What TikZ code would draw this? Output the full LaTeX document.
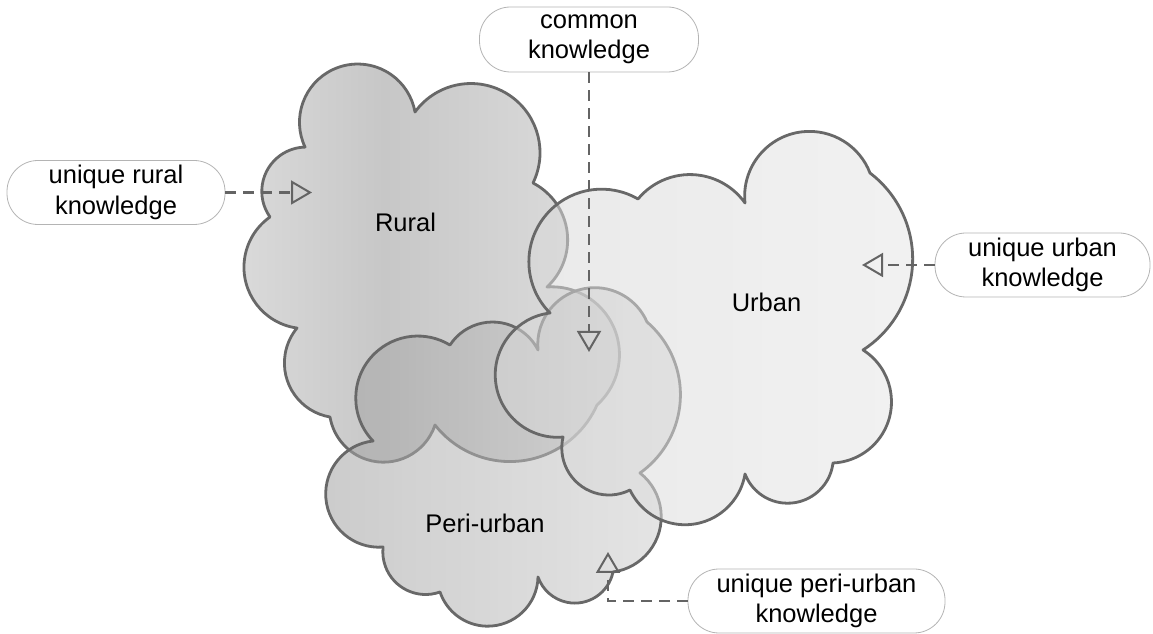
\documentclass[tikz,border=0pt]{standalone}
\usepackage{fontspec}
\setmainfont{Liberation Sans}
\usetikzlibrary{calc,arrows.meta}

\definecolor{cloudline}{RGB}{104,104,104}
\definecolor{connline}{RGB}{100,100,100}
\definecolor{boxline}{RGB}{180,180,180}
\definecolor{ruralL}{RGB}{218,218,218}
\definecolor{ruralM}{RGB}{199,199,199}
\definecolor{ruralR}{RGB}{223,223,223}
\definecolor{periL}{RGB}{160,160,160}
\definecolor{periR}{RGB}{209,209,209}
\definecolor{urbL}{RGB}{215,215,215}
\definecolor{urbR}{RGB}{230,230,230}

% horizontal fills; the path box maps onto 25bp..75bp
\pgfdeclarehorizontalshading{ruralfill}{100bp}{color(0bp)=(ruralL); color(25bp)=(ruralL); color(44bp)=(ruralM); color(75bp)=(ruralR); color(100bp)=(ruralR)}
\pgfdeclarehorizontalshading{perifill}{100bp}{color(0bp)=(periL); color(25bp)=(periL); color(75bp)=(periR); color(100bp)=(periR)}
\pgfdeclarehorizontalshading{urbanfill}{100bp}{color(0bp)=(urbL); color(25bp)=(urbL); color(75bp)=(urbR); color(100bp)=(urbR)}

% a point given in top-down page units
\newcommand\cpt[3]{\coordinate (#1) at (#2,{634-#3});}

\tikzset{
  % circular arc bulging outwards (left of travel) with central angle #1
  bump/.style={to path={
    let \p1=(\tikztostart), \p2=(\tikztotarget),
        \n1={atan2(\y2-\y1,\x2-\x1)},
        \n2={veclen(\x2-\x1,\y2-\y1)}
    in arc[start angle=\n1+90+#1/2, delta angle=-#1, radius={\n2/(2*sin(#1/2))}]}},
  cloud/.style={draw=cloudline, line width=2.8pt, line join=round, shade},
  lbl/.style={draw=boxline, line width=0.8pt, fill=white, rounded corners=31pt,
    minimum height=64pt, align=center, inner sep=0pt,
    font=\fontsize{25.5}{30.5}\selectfont},
  cloudname/.style={font=\fontsize{25.5}{30}\selectfont, anchor=base, inner sep=0pt},
  conn/.style={draw=connline, line width=2.8pt, dash pattern=on 11pt off 7pt,
    -{Triangle[open, length=21pt, width=24pt, line width=2pt]}}
}

\newcommand\ruralpath{(r1) to[bump=195] (r2) to[bump=170] (r3) to[bump=110] (r4)
  to[bump=142] (r5) to[bump=118] (r6) to[bump=152] (r7) to[bump=120] (r8)
  to[bump=137] (r9) to[bump=124] (r1) -- cycle}
\newcommand\peripath{(q1) to[bump=165] (q2) to[bump=120] (q3) to[bump=162] (q4)
  to[bump=104] (q5) to[bump=134] (q6) to[bump=149] (q7) to[bump=160] (q8)
  to[bump=116] (q9) to[bump=178] (q1) -- cycle}
\newcommand\urbanpath{(u1) to[bump=165] (u2) to[bump=105] (u3) to[bump=165] (u4)
  to[bump=110] (u5) to[bump=145] (u6) to[bump=152] (u7) to[bump=145] (u8)
  to[bump=130] (u9) to[bump=178] (u1) -- cycle}

\begin{document}
\begin{tikzpicture}[x=1pt,y=1pt]
\useasboundingbox (0,0) rectangle (1153,634);

% cloud outlines, clockwise
\cpt{r1}{305}{147} \cpt{r2}{415}{112} \cpt{r3}{533}{183} \cpt{r4}{547}{287}
\cpt{r5}{597}{405} \cpt{r6}{435}{425} \cpt{r7}{330}{417} \cpt{r8}{297}{328}
\cpt{r9}{270}{217}

\cpt{q1}{373}{441} \cpt{q2}{450}{345} \cpt{q3}{538}{350} \cpt{q4}{647}{322}
\cpt{q5}{640}{473} \cpt{q6}{613}{572} \cpt{q7}{538}{577} \cpt{q8}{440}{592}
\cpt{q9}{383}{547}

\cpt{u1}{550}{313} \cpt{u2}{638}{199} \cpt{u3}{745}{203} \cpt{u4}{870}{173}
\cpt{u5}{863}{350} \cpt{u6}{833}{463} \cpt{u7}{745}{474} \cpt{u8}{630}{490}
\cpt{u9}{563}{437}

\path[cloud, shading=ruralfill] \ruralpath;
\path[cloud, shading=perifill, fill opacity=0.54] \peripath;
\path[cloud, shading=urbanfill, fill opacity=0.55] \urbanpath;

\node[cloudname] (rural) at (405.5,402.3) {Rural};
\node[cloudname] (urban) at (766.5,322) {Urban};
\node[cloudname] (peri) at (485,101) {Peri-urban};

% knowledge labels
\node[lbl, minimum width=218pt] (rbox) at (116,441.5) {unique rural\\knowledge};
\node[lbl, minimum width=219pt, minimum height=65pt] (cbox) at (589,594.5) {common\\knowledge};
\node[lbl, minimum width=215pt] (ubox) at (1042.5,369) {unique urban\\knowledge};
\node[lbl, minimum width=257pt] (pbox) at (816.5,33) {unique peri-urban\\knowledge};

\coordinate (rtip) at (312,441.5);
\coordinate (ctip) at (589,282);
\coordinate (utip) at (862,369);
\coordinate (ptip) at (608,82);

\draw[conn] (rbox.east) -- (rtip);
\draw[conn] (cbox.south) -- (ctip);
\draw[conn] (ubox.west) -- (utip);
\draw[conn] (pbox.west) -| (ptip);
\end{tikzpicture}
\end{document}
